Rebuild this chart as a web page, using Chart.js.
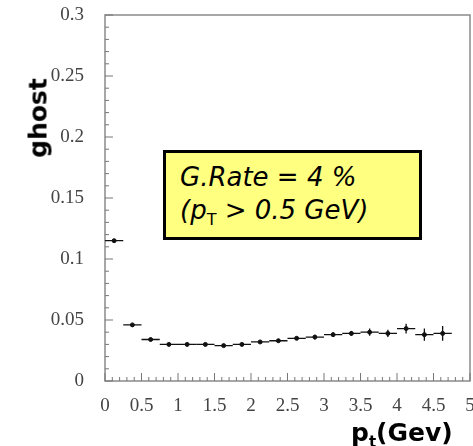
<!DOCTYPE html>
<html lang="en">
<head>
    <meta charset="UTF-8">
    <title>Ghost rate vs pt</title>
    <script src="https://cdn.jsdelivr.net/npm/chart.js"></script>
    <style>
        body { margin: 0; background: #fff; }
        .wrap { position: relative; width: 473px; height: 446px; overflow: hidden; }
        canvas { position: absolute; left: 0; top: 0; }
        .ytitle {
            position: absolute; left: 38px; top: 118px;
            transform: translate(-50%, -50%) rotate(-90deg);
            font: bold 25px "DejaVu Sans", sans-serif; color: #000;
        }
        .xtitle {
            position: absolute; left: 351px; top: 418px;
            font: bold 25px "DejaVu Sans", sans-serif; color: #000;
        }
        .xtitle sub { font-size: 15px; }
        .note {
            position: absolute; left: 163px; top: 150px; width: 253px; height: 84px;
            background: #ffff80; border: 3px solid #000;
            font: italic 26px "DejaVu Sans", sans-serif; color: #000;
        }
        .note div { position: absolute; left: 14px; white-space: nowrap; line-height: 30px; }
        .note sub { font-size: 16px; font-style: normal; }
    </style>
</head>
<body>
<div class="wrap">
    <canvas id="ghostChart" width="473" height="446"></canvas>
    <div class="ytitle">ghost</div>
    <div class="xtitle">p<sub>t</sub>(Gev)</div>
    <div class="note">
        <div style="top:9px">G.Rate = 4 %</div>
        <div style="top:42px">(p<sub>T</sub> &gt; 0.5 GeV)</div>
    </div>
</div>
<script>
    // bin centres (GeV), bins are 0.25 wide
    const ptCenters = [0.125, 0.375, 0.625, 0.875, 1.125, 1.375, 1.625, 1.875, 2.125, 2.375,
                       2.625, 2.875, 3.125, 3.375, 3.625, 3.875, 4.125, 4.375, 4.625];
    const ghostRate = [0.115, 0.046, 0.034, 0.030, 0.030, 0.030, 0.029, 0.030, 0.032, 0.033,
                       0.035, 0.036, 0.038, 0.039, 0.040, 0.039, 0.043, 0.038, 0.039];
    const ghostErr  = [0.001, 0.001, 0.001, 0.001, 0.001, 0.001, 0.001, 0.001, 0.001, 0.001,
                       0.001, 0.002, 0.002, 0.002, 0.003, 0.003, 0.004, 0.005, 0.006];
    const binHalf = 0.125;
    const xTicks = [0, 0.5, 1, 1.5, 2, 2.5, 3, 3.5, 4, 4.5, 5];
    const yTicks = [0, 0.05, 0.1, 0.15, 0.2, 0.25, 0.3];

    // error bars + frame + inward ticks
    const histoPlugin = {
        id: "histo",
        afterDatasetsDraw(chart) {
            const ctx = chart.ctx, xs = chart.scales.x, ys = chart.scales.y;
            const a = chart.chartArea;
            ctx.save();
            // frame
            ctx.strokeStyle = "#8a8a8a";
            ctx.lineWidth = 1.5;
            ctx.strokeRect(a.left, a.top, a.right - a.left, a.bottom - a.top);
            // ticks on y
            ctx.strokeStyle = "#777";
            ctx.lineWidth = 1;
            for (let i = 0; i <= 30; i++) {
                const y = ys.getPixelForValue(i / 100);
                const len = i % 5 === 0 ? 8 : 4;
                ctx.beginPath();
                ctx.moveTo(a.left, y);
                ctx.lineTo(a.left + len, y);
                ctx.stroke();
            }
            // ticks on x
            for (let i = 0; i <= 50; i++) {
                const x = xs.getPixelForValue(i / 10);
                const len = i % 5 === 0 ? 8 : 4;
                ctx.beginPath();
                ctx.moveTo(x, a.bottom);
                ctx.lineTo(x, a.bottom - len);
                ctx.stroke();
            }
            // error bars
            ctx.strokeStyle = "#111";
            ctx.lineWidth = 1.3;
            ptCenters.forEach((pt, i) => {
                const x0 = xs.getPixelForValue(pt - binHalf);
                const x1 = xs.getPixelForValue(pt + binHalf);
                const xc = xs.getPixelForValue(pt);
                const y = ys.getPixelForValue(ghostRate[i]);
                const yLo = ys.getPixelForValue(ghostRate[i] - ghostErr[i]);
                const yHi = ys.getPixelForValue(ghostRate[i] + ghostErr[i]);
                ctx.beginPath();
                ctx.moveTo(x0, y);
                ctx.lineTo(x1, y);
                ctx.moveTo(xc, yLo);
                ctx.lineTo(xc, yHi);
                ctx.stroke();
            });
            ctx.restore();
        }
    };

    new Chart(document.getElementById("ghostChart"), {
        type: "scatter",
        data: {
            datasets: [{
                label: "ghost",
                data: ptCenters.map((x, i) => ({ x: x, y: ghostRate[i] })),
                backgroundColor: "#111",
                borderColor: "#111",
                pointRadius: 2,
                pointHoverRadius: 2
            }]
        },
        options: {
            responsive: false,
            animation: false,
            events: [],
            layout: { padding: { top: 15, right: 3, left: 0, bottom: 0 } },
            plugins: { legend: { display: false }, tooltip: { enabled: false } },
            scales: {
                x: {
                    type: "linear", min: 0, max: 5,
                    grid: { display: false },
                    border: { display: false },
                    afterBuildTicks: s => { s.ticks = xTicks.map(v => ({ value: v })); },
                    afterFit: s => { s.height = 65; s.paddingLeft = 0; s.paddingRight = 0; },
                    ticks: {
                        autoSkip: false, maxRotation: 0, padding: 6,
                        color: "#444",
                        font: { family: "Liberation Serif", size: 19 },
                        callback: v => String(+v.toFixed(2))
                    }
                },
                y: {
                    type: "linear", min: 0, max: 0.3,
                    grid: { display: false },
                    border: { display: false },
                    afterBuildTicks: s => { s.ticks = yTicks.map(v => ({ value: v })); },
                    afterFit: s => { s.width = 105; s.paddingTop = 0; s.paddingBottom = 0; },
                    ticks: {
                        autoSkip: false, padding: 13,
                        color: "#444",
                        font: { family: "Liberation Serif", size: 19 },
                        callback: v => String(+v.toFixed(2))
                    }
                }
            }
        },
        plugins: [histoPlugin]
    });
</script>
</body>
</html>
